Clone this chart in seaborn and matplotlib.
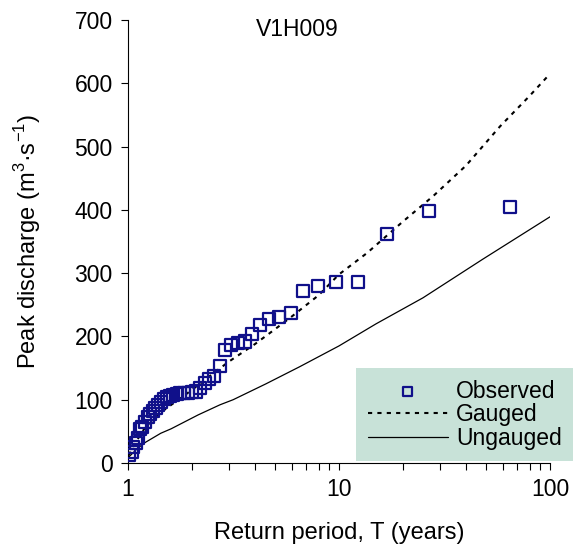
import numpy as np
import pandas as pd
import seaborn as sns
import matplotlib.pyplot as plt

sns.set_theme(style='ticks')
plt.rcParams['font.family'] = ['Liberation Sans', 'DejaVu Sans']
plt.rcParams['mathtext.fontset'] = 'custom'
plt.rcParams['mathtext.rm'] = 'Liberation Sans'
plt.rcParams['text.color'] = 'black'
plt.rcParams['axes.labelcolor'] = 'black'
plt.rcParams['xtick.color'] = 'black'
plt.rcParams['ytick.color'] = 'black'

# Observed annual peaks (return period, discharge)
obs_T = [64.86, 26.71, 16.81, 12.27, 9.66, 7.96, 6.78, 5.90, 5.22, 4.68,
         4.24, 3.88, 3.57, 3.31, 3.09, 2.89, 2.72, 2.56, 2.43, 2.31,
         2.19, 2.09, 2.00, 1.92, 1.84, 1.77, 1.70, 1.64, 1.58, 1.53,
         1.48, 1.43, 1.39, 1.35, 1.31, 1.27, 1.24, 1.20, 1.17, 1.14,
         1.11, 1.09, 1.06, 1.04, 1.01]
obs_Q = [404, 398, 362, 286, 286, 280, 272, 237, 231, 228,
         218, 204, 192, 190, 186, 178, 153, 137, 132, 127,
         118, 113, 112, 111, 110, 110, 109, 108, 106, 104,
         101, 96, 92, 87, 82, 78, 72, 65, 57, 53,
         40, 32, 26, 18, 12]

# Gauged estimate
gauged_T = [1.01, 1.05, 1.2, 1.5, 2.0, 2.5, 3.0, 4.0, 5.0, 6.0, 8.0, 10,
            13.6, 20, 28, 40, 58, 80, 100]
gauged_Q = [12, 25, 55, 85, 115, 140, 160, 188, 212, 232, 265, 298,
            332, 381, 422, 470, 532, 580, 615]

# Ungauged estimate
ungauged_T = [1.0, 1.1, 1.2, 1.43, 1.6, 2.15, 2.73, 3.15, 4.5, 6.5, 10,
              15, 25, 48, 100]
ungauged_Q = [8, 22, 32, 47, 54, 76, 92, 100, 125, 152, 185,
              220, 261, 322, 389]

obs = pd.DataFrame({'T': obs_T, 'Q': obs_Q})
gauged = pd.DataFrame({'T': gauged_T, 'Q': gauged_Q})
ungauged = pd.DataFrame({'T': ungauged_T, 'Q': ungauged_Q})

fig = plt.figure(figsize=(5.73, 5.55), dpi=100)
ax = fig.add_axes([128 / 573, 92 / 555, 422 / 573, 443 / 555])

sns.lineplot(data=gauged, x='T', y='Q', ax=ax, color='black', lw=1.5,
             linestyle=(0, (2, 2.5)), sort=False, estimator=None, label='Gauged')
sns.lineplot(data=ungauged, x='T', y='Q', ax=ax, color='black', lw=0.9,
             sort=False, estimator=None, label='Ungauged')
sns.scatterplot(data=obs, x='T', y='Q', ax=ax, marker='s', s=75,
                facecolors='none', edgecolor='#10108a', linewidth=1.6,
                label='Observed', zorder=3)

ax.set_xscale('log')
ax.set_xlim(1, 100)
ax.set_ylim(0, 700)
ax.set_xticks([1, 10, 100], labels=['1', '10', '100'])
ax.set_yticks(range(0, 701, 100))
ax.tick_params(axis='both', which='both', direction='out', length=5, width=0.8,
               labelsize=16.5, pad=6)
sns.despine(ax=ax)
for s in ['left', 'bottom']:
    ax.spines[s].set_color('black')
    ax.spines[s].set_linewidth(0.8)

ax.set_xlabel('Return period, T (years)', fontsize=17, labelpad=15)
ax.set_ylabel(r'Peak discharge (m$^{\mathregular{3}}$·s$^{\mathregular{-1}}$)',
              fontsize=17, labelpad=23)
ax.text(0.40, 1.005, 'V1H009', transform=ax.transAxes, fontsize=16.5,
        ha='center', va='top')

ax.get_legend().remove()
h, l = ax.get_legend_handles_labels()
order = [l.index('Observed'), l.index('Gauged'), l.index('Ungauged')]
leg = fig.legend([h[i] for i in order], [l[i] for i in order],
                 loc='lower right', bbox_to_anchor=(1.0, 94 / 555),
                 fontsize=16.5, frameon=True, fancybox=False,
                 facecolor='#c8e2d8', edgecolor='none', framealpha=1,
                 handlelength=3.5, handletextpad=0.35, labelspacing=0.02,
                 borderpad=0.5, borderaxespad=0, markerscale=0.75)

fig.savefig('out.png', dpi=100)
